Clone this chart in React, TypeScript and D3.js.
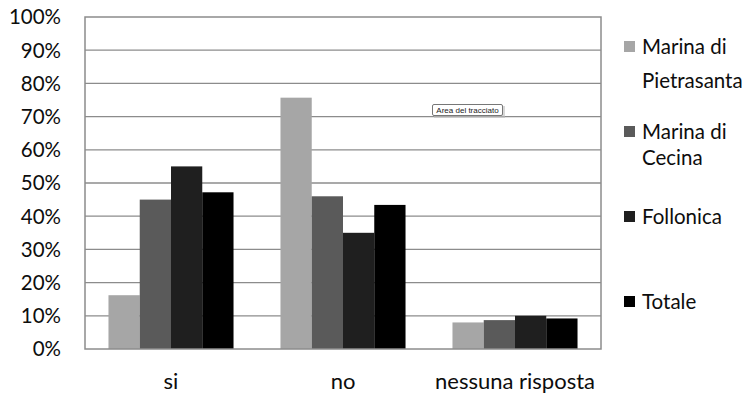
import React from "react";
import * as d3 from "d3";

const categories = ["si", "no", "nessuna risposta"];
const seriesNames = ["Marina di Pietrasanta", "Marina di Cecina", "Follonica", "Totale"];
const legendLines = [["Marina di", "Pietrasanta"], ["Marina di", "Cecina"], ["Follonica"], ["Totale"]];
const pietrasanta = [16.2, 75.7, 8.0];
const cecina = [45.0, 46.0, 8.7];
const follonica = [55.0, 35.0, 10.0];
const totale = [47.2, 43.4, 9.2];
const yTicks = [0, 10, 20, 30, 40, 50, 60, 70, 80, 90, 100];
const colors = ["#a6a6a6", "#5a5a5a", "#1f1f1f", "#000000"];

const W = 746;
const H = 393;
const plot = { left: 85, right: 601, top: 17, bottom: 349 };
const font = "Lato, 'Open Sans', sans-serif";

export default function App() {
  const series = [pietrasanta, cecina, follonica, totale];
  const x0 = d3
    .scaleBand<string>()
    .domain(categories)
    .range([plot.left, plot.right])
    .paddingInner(0.273)
    .paddingOuter(0.1365);
  const x1 = d3.scaleBand<number>().domain(d3.range(series.length)).range([0, x0.bandwidth()]);
  const y = d3.scaleLinear().domain([0, 100]).range([plot.bottom, plot.top]);

  const legendY = [[47, 81], [132, 158], [217], [302]];

  return (
    <svg
      width={W}
      height={H}
      style={{ position: "absolute", left: 0, top: 0, background: "#fff" }}
      fontFamily={font}
    >
      <rect x={0} y={0} width={W} height={H} fill="#fff" />
      {yTicks.map((t) => (
        <g key={t}>
          {t > 0 && t < 100 && (
            <line x1={plot.left} x2={plot.right} y1={y(t)} y2={y(t)} stroke="#8c8c8c" strokeWidth={1.3} />
          )}
          <text x={61} y={y(t)} dy="0.36em" textAnchor="end" fontSize={20.5} fill="#0d0d0d">
            {t}%
          </text>
        </g>
      ))}
      {categories.map((c, ci) => (
        <g key={c}>
          {series.map((s, si) => (
            <rect
              key={si}
              x={(x0(c) as number) + (x1(si) as number)}
              y={y(s[ci])}
              width={x1.bandwidth()}
              height={plot.bottom - y(s[ci])}
              fill={colors[si]}
            />
          ))}
          <text
            x={(x0(c) as number) + x0.bandwidth() / 2}
            y={389}
            textAnchor="middle"
            fontSize={22}
            fill="#0d0d0d"
          >
            {c}
          </text>
        </g>
      ))}
      <rect
        x={plot.left}
        y={plot.top}
        width={plot.right - plot.left}
        height={plot.bottom - plot.top}
        fill="none"
        stroke="#8c8c8c"
        strokeWidth={1.5}
      />
      {seriesNames.map((n, i) => (
        <g key={n}>
          <rect x={624} y={legendY[i][0] - 6} width={11} height={11} fill={colors[i]} />
          {legendLines[i].map((line, li) => (
            <text key={li} x={642} y={legendY[i][li]} dy="0.36em" fontSize={20.5} fill="#0d0d0d">
              {line}
            </text>
          ))}
        </g>
      ))}
      <g>
        <rect x={434} y={106} width={71} height={12} fill="#bdbdbd" opacity={0.6} />
        <rect x={432.5} y={104.5} width={70} height={11} fill="#fff" stroke="#777" strokeWidth={1} rx={1.5} />
        <text x={467.5} y={110} dy="0.35em" textAnchor="middle" fontSize={8} fill="#222" fontFamily="'Liberation Sans Narrow', 'Liberation Sans', sans-serif">
          Area del tracciato
        </text>
      </g>
    </svg>
  );
}
